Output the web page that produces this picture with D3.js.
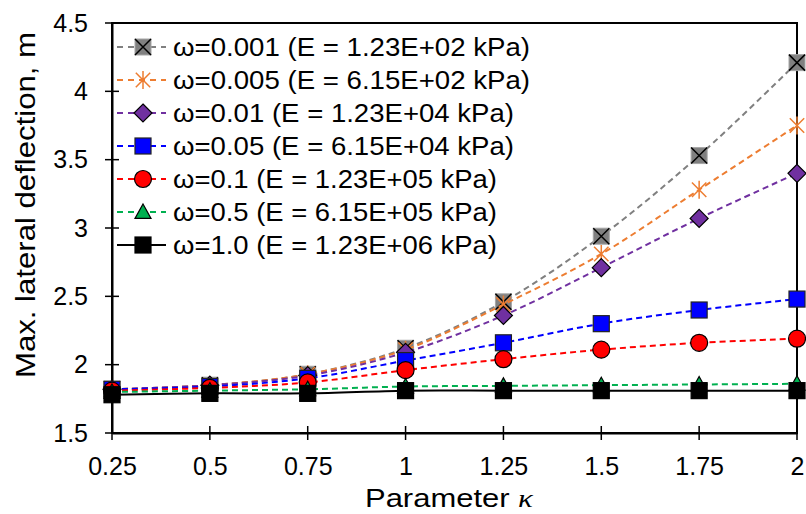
<!DOCTYPE html>
<html>
<head>
<meta charset="utf-8">
<script src="https://cdn.jsdelivr.net/npm/d3@7.9.0/dist/d3.min.js"></script>
<style>
  body { margin: 0; background: #fff; }
  svg { display: block; font-family: 'Liberation Sans', Arial, sans-serif; }
</style>
</head>
<body>
<svg id="chart" width="806" height="514"></svg>
<script>
// kappa values along x
const kappa = [0.25, 0.5, 0.75, 1, 1.25, 1.5, 1.75, 2];
const xTickLabels = ['0.25', '0.5', '0.75', '1', '1.25', '1.5', '1.75', '2'];
const yTicks = [1.5, 2, 2.5, 3, 3.5, 4, 4.5];

const seriesNames = [
  'ω=0.001 (E = 1.23E+02 kPa)',
  'ω=0.005 (E = 6.15E+02 kPa)',
  'ω=0.01 (E = 1.23E+04 kPa)',
  'ω=0.05 (E = 6.15E+04 kPa)',
  'ω=0.1 (E = 1.23E+05 kPa)',
  'ω=0.5 (E = 6.15E+05 kPa)',
  'ω=1.0 (E = 1.23E+06 kPa)'
];

const w0001 = [1.82, 1.85, 1.93, 2.12, 2.46, 2.94, 3.53, 4.21];
const w0005 = [1.82, 1.85, 1.93, 2.11, 2.44, 2.81, 3.28, 3.75];
const w001  = [1.82, 1.85, 1.92, 2.09, 2.36, 2.71, 3.07, 3.40];
const w005  = [1.82, 1.84, 1.90, 2.03, 2.16, 2.30, 2.40, 2.48];
const w01   = [1.81, 1.83, 1.87, 1.96, 2.04, 2.11, 2.16, 2.19];
const w05   = [1.80, 1.81, 1.82, 1.84, 1.845, 1.85, 1.855, 1.86];
const w10   = [1.78, 1.79, 1.79, 1.81, 1.81, 1.81, 1.81, 1.81];

const seriesValues = [w0001, w0005, w001, w005, w01, w05, w10];
const colors = ['#808080', '#ED7D31', '#7030A0', '#0000FF', '#FF0000', '#00B050', '#000000'];
const markers = ['xsquare', 'star', 'diamond', 'square', 'circle', 'triangle', 'square'];
const legendWidths = [357, 357, 341, 341, 324, 324, 324];

const svg = d3.select('#chart');
const mLeft = 112, mRight = 797, mTop = 23, mBottom = 433;

const x = d3.scaleLinear().domain([0.25, 2]).range([mLeft, mRight]);
const y = d3.scaleLinear().domain([1.5, 4.5]).range([mBottom, mTop]);

// frame
svg.append('rect')
  .attr('x', mLeft).attr('y', mTop)
  .attr('width', mRight - mLeft).attr('height', mBottom - mTop)
  .attr('fill', 'none').attr('stroke', '#000').attr('stroke-width', 2);

// axes
const xAxis = d3.axisBottom(x).tickValues(kappa).tickFormat((d, i) => xTickLabels[i]).tickSize(0).tickPadding(24);
const gx = svg.append('g').attr('transform', `translate(0,${mBottom})`).call(xAxis);
gx.select('.domain').attr('stroke', '#000').attr('stroke-width', 2);
gx.selectAll('text').attr('font-size', 25).attr('fill', '#000').attr('font-family', 'Liberation Sans, Arial');
svg.append('g').selectAll('line').data(kappa).join('line')
  .attr('x1', d => x(d)).attr('x2', d => x(d))
  .attr('y1', mBottom - 7).attr('y2', mBottom + 7)
  .attr('stroke', '#000').attr('stroke-width', 1.5);

const yAxis = d3.axisLeft(y).tickValues(yTicks).tickFormat(d3.format('')).tickSize(0).tickPadding(24);
const gy = svg.append('g').attr('transform', `translate(${mLeft},0)`).call(yAxis);
gy.select('.domain').attr('stroke', '#000').attr('stroke-width', 2);
gy.selectAll('text').attr('font-size', 25).attr('fill', '#000').attr('font-family', 'Liberation Sans, Arial');
svg.append('g').selectAll('line').data(yTicks).join('line')
  .attr('x1', mLeft - 7).attr('x2', mLeft + 7)
  .attr('y1', d => y(d)).attr('y2', d => y(d))
  .attr('stroke', '#000').attr('stroke-width', 1.5);

// axis titles
svg.append('text')
  .attr('transform', 'translate(35,205) rotate(-90)')
  .attr('text-anchor', 'middle').attr('font-size', 27)
  .attr('textLength', 346).attr('lengthAdjust', 'spacingAndGlyphs')
  .text('Max. lateral deflection, m');

const xt = svg.append('text')
  .attr('x', 449).attr('y', 507)
  .attr('text-anchor', 'middle').attr('font-size', 26)
  .attr('textLength', 168).attr('lengthAdjust', 'spacingAndGlyphs');
xt.append('tspan').text('Parameter ');
xt.append('tspan').attr('font-style', 'italic').attr('font-family', 'Liberation Serif, serif').text('κ');

// marker drawer
function drawMarker(g, type, color) {
  const s = 8;
  if (type === 'xsquare') {
    g.append('rect').attr('x', -s).attr('y', -s).attr('width', 2 * s).attr('height', 2 * s)
      .attr('fill', '#808080').attr('stroke', '#a6a6a6').attr('stroke-width', 1);
    g.append('path').attr('d', `M${-s},${-s}L${s},${s}M${-s},${s}L${s},${-s}`)
      .attr('stroke', '#000').attr('stroke-width', 1.5);
  } else if (type === 'star') {
    const r = 9;
    g.append('path')
      .attr('d', `M0,${-r}L0,${r}M${-r * 0.8},${-r * 0.8}L${r * 0.8},${r * 0.8}M${-r * 0.8},${r * 0.8}L${r * 0.8},${-r * 0.8}`)
      .attr('stroke', color).attr('stroke-width', 1.5).attr('fill', 'none');
  } else if (type === 'diamond') {
    g.append('path').attr('d', `M0,${-s - 1}L${s + 1},0L0,${s + 1}L${-s - 1},0Z`)
      .attr('fill', color).attr('stroke', '#000').attr('stroke-width', 1.2);
  } else if (type === 'square') {
    g.append('rect').attr('x', -s).attr('y', -s).attr('width', 2 * s).attr('height', 2 * s)
      .attr('fill', color).attr('stroke', color === '#000000' ? '#000' : '#222').attr('stroke-width', 1.2);
  } else if (type === 'circle') {
    g.append('circle').attr('r', s + 0.5)
      .attr('fill', color).attr('stroke', '#000').attr('stroke-width', 1.2);
  } else if (type === 'triangle') {
    g.append('path').attr('d', `M0,${-s}L${s},${s * 0.8}L${-s},${s * 0.8}Z`)
      .attr('fill', color).attr('stroke', '#000').attr('stroke-width', 1.2);
  }
}

const line = d3.line()
  .x((d, i) => x(kappa[i]))
  .y(d => y(d))
  .curve(d3.curveCatmullRom.alpha(0.5));

seriesValues.forEach((vals, si) => {
  const g = svg.append('g');
  g.append('path')
    .attr('d', line(vals))
    .attr('fill', 'none')
    .attr('stroke', colors[si])
    .attr('stroke-width', 2)
    .attr('stroke-dasharray', si === 6 ? null : '6,4');
  vals.forEach((v, i) => {
    const mg = g.append('g').attr('transform', `translate(${x(kappa[i])},${y(v)})`);
    drawMarker(mg, markers[si], colors[si]);
  });
});

// legend
const legend = svg.append('g');
seriesNames.forEach((name, si) => {
  const cy = 47 + si * 33;
  const row = legend.append('g').attr('transform', `translate(0,${cy})`);
  row.append('line')
    .attr('x1', 117).attr('x2', 166).attr('y1', 0).attr('y2', 0)
    .attr('stroke', colors[si]).attr('stroke-width', 2)
    .attr('stroke-dasharray', si === 6 ? null : '6,5');
  const mg = row.append('g').attr('transform', 'translate(143,0)');
  drawMarker(mg, markers[si], colors[si]);
  row.append('text')
    .attr('x', 173).attr('y', 9)
    .attr('font-size', 26)
    .attr('textLength', legendWidths[si])
    .attr('lengthAdjust', 'spacingAndGlyphs')
    .text(name);
});
</script>
</body>
</html>
